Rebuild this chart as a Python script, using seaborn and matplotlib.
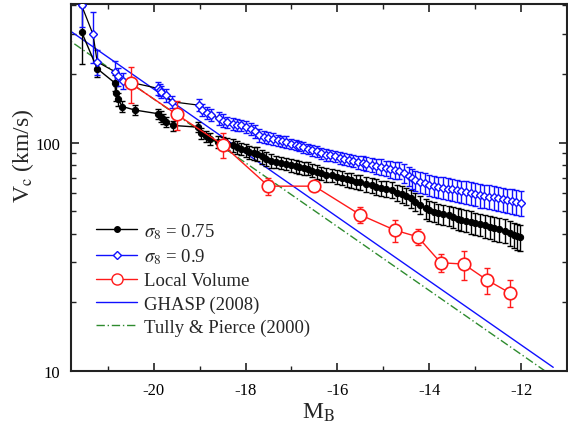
import numpy as np
import pandas as pd
import matplotlib
matplotlib.use('Agg')
import matplotlib.pyplot as plt
import seaborn as sns
from matplotlib.lines import Line2D
from matplotlib.ticker import FixedLocator, NullFormatter, MultipleLocator, FixedFormatter

# ---------------- data ----------------
# sigma_8 = 0.75 simulation
m75 = [-21.57, -21.23, -20.85, -20.82, -20.78, -20.68, -20.41, -19.91, -19.85, -19.80,
       -19.74, -19.58, -19.04, -18.96, -18.87, -18.78, -18.60, -18.50, -18.40, -18.28,
       -18.18, -18.10, -18.00, -17.92, -17.82, -17.74, -17.65, -17.55, -17.45, -17.34,
       -17.22, -17.12, -17.00, -16.90, -16.83, -16.73, -16.65, -16.55, -16.45, -16.35,
       -16.25, -16.11, -16.00, -15.90, -15.80, -15.70, -15.60, -15.50, -15.38, -15.25,
       -15.15, -15.05, -14.95, -14.81, -14.70, -14.60, -14.50, -14.40, -14.30, -14.20,
       -14.08, -14.00, -13.90, -13.80, -13.70, -13.58, -13.48, -13.38, -13.30, -13.21,
       -13.10, -13.00, -12.90, -12.78, -12.68, -12.58, -12.48, -12.35, -12.25, -12.15,
       -12.08, -12.02]
v75 = [306, 211, 183, 165, 155, 144, 139, 134, 130, 127,
       123, 119, 117, 110, 107, 104, 101, 99.5, 98.5, 97.3,
       95.5, 94, 92.5, 91, 90, 89.5, 87, 85, 83.5, 82.3,
       81.5, 81, 79.5, 78.8, 78.2, 77.5, 77, 75.5, 74.5, 73.5,
       72.5, 72, 71, 70, 69, 68.5, 67.5, 67, 66, 65,
       64, 63.2, 62.8, 62, 60.5, 59.5, 58.5, 57, 55, 53.5,
       51.5, 50.5, 49.8, 49, 48.5, 48, 47.2, 46.5, 46, 45.6,
       45, 44.4, 43.9, 43.4, 42.8, 42.2, 41.8, 41.2, 40.3, 39.5,
       39, 38.5]
e75 = [85, 18, 15, 12, 10, 8, 7, 7, 7, 6,
       6, 6, 6, 6, 6, 6, 6, 6, 6, 6,
       6, 6, 6, 6, 6, 6, 6, 6, 6, 5,
       5, 5, 5, 5, 5, 5, 5, 5, 5, 5,
       5, 5, 5, 5, 5, 5, 5, 5, 5, 5,
       5, 5, 5, 5, 5, 5, 5, 5, 5, 5,
       5, 5, 5, 5, 5, 5, 5, 5, 5, 5,
       5, 5, 5, 5, 5, 5, 5, 5, 5, 5,
       5, 5]

# sigma_8 = 0.9 simulation
m90 = [-21.57, -21.32, -21.23, -20.85, -20.78, -20.67, -19.91, -19.86, -19.83, -19.74,
       -19.59, -19.02, -18.94, -18.84, -18.75, -18.58, -18.50, -18.40, -18.28, -18.18,
       -18.10, -18.00, -17.88, -17.80, -17.70, -17.60, -17.50, -17.41, -17.30, -17.20,
       -17.12, -17.00, -16.90, -16.83, -16.75, -16.65, -16.55, -16.45, -16.35, -16.25,
       -16.15, -16.05, -15.95, -15.85, -15.75, -15.65, -15.55, -15.45, -15.38, -15.25,
       -15.15, -15.05, -14.95, -14.85, -14.75, -14.66, -14.55, -14.45, -14.38, -14.30,
       -14.20, -14.10, -14.00, -13.90, -13.80, -13.70, -13.60, -13.50, -13.40, -13.30,
       -13.20, -13.10, -13.00, -12.90, -12.80, -12.70, -12.60, -12.50, -12.40, -12.30,
       -12.20, -12.10, -12.00]
v90 = [400, 298, 226, 205, 195, 187, 173, 170, 167, 161,
       151, 146, 139, 135, 132, 128, 125, 123, 121, 120,
       119, 117, 115, 112, 108, 106, 105, 104, 102.5, 101.5,
       100.7, 99, 98, 97, 95.5, 94, 92.5, 91.5, 90, 88.5,
       88, 87, 86, 85, 84, 83, 82, 81.5, 81, 80,
       79, 78.5, 77.5, 76.5, 76, 75.5, 73.5, 71.5, 70, 68.5,
       67.5, 66.5, 65.5, 64.8, 64, 63.5, 63, 62.5, 61.8, 61.2,
       60.8, 60.2, 59.6, 59, 58.5, 58, 57.6, 57.2, 56.6, 56,
       55.5, 55, 54.6]
e90 = [80, 75, 28, 22, 18, 15, 12, 10, 10, 10,
       9, 9, 8, 8, 8, 8, 8, 7, 7, 7,
       7, 7, 7, 7, 7, 6, 6, 6, 6, 6,
       6, 5, 5, 5, 5, 5, 5, 5, 5, 5,
       5, 5, 5, 5, 5, 5, 5, 5.5, 5.5, 5.5,
       6, 6, 6, 6.5, 6.5, 6.5, 7, 7, 7, 7,
       7, 7, 7, 7, 7, 7, 7, 7, 7, 7,
       7, 7, 7, 7, 7, 7, 7, 7, 7, 7,
       7, 7, 7]

# Local Volume observations
m_lv = [-20.5, -19.5, -18.5, -17.5, -16.5, -15.5, -14.75, -14.25, -13.75, -13.25, -12.75, -12.25]
v_lv = [182, 133, 98, 64.5, 64.5, 48.3, 41.4, 38.7, 29.8, 29.4, 25.1, 22.0]
e_lv = [33, 19, 12, 5.5, 2.5, 4, 4.5, 3, 2.7, 4.3, 3.3, 3]

# Tully-Fisher relations: log10(V) = a + b * M
ghasp_a, ghasp_b = -0.567, -0.1401
ghasp_m = [-22.0, -11.3]
tp_a, tp_b = -0.6045, -0.1398
tp_m = [-22.0, -11.0]

x_ticks = [-20, -18, -16, -14, -12]
y_ticks = [10, 100]
y_ticklabels = ['10', '100']

labels = [r'$\sigma_8$ = 0.75', r'$\sigma_8$ = 0.9', 'Local Volume',
          'GHASP (2008)', 'Tully & Pierce (2000)']

# ---------------- style ----------------
sns.set_theme(style='ticks')
plt.rcParams['font.family'] = ['Liberation Serif', 'DejaVu Serif']
plt.rcParams['mathtext.fontset'] = 'stix'
plt.rcParams['axes.unicode_minus'] = False
plt.rcParams['axes.edgecolor'] = '#222222'

fig = plt.figure(figsize=(5.68, 4.27), dpi=100)
fig.patch.set_facecolor('white')
ax = fig.add_axes([71 / 568, 55 / 427, 496 / 568, 367 / 427])
ax.set_facecolor('white')

BLUE = '#1010ff'
RED = '#ff1a1a'
GREEN = '#2e8b2e'

# TF lines
gm = np.array(ghasp_m)
df_g = pd.DataFrame({'M': gm, 'V': 10 ** (ghasp_a + ghasp_b * gm)})
sns.lineplot(data=df_g, x='M', y='V', ax=ax, color=BLUE, lw=1.0, sort=False,
             estimator=None, legend=False, zorder=2)
tm = np.array(tp_m)
df_t = pd.DataFrame({'M': tm, 'V': 10 ** (tp_a + tp_b * tm)})
sns.lineplot(data=df_t, x='M', y='V', ax=ax, color=GREEN, lw=1.0, sort=False,
             estimator=None, legend=False, zorder=2, linestyle=(0, (6, 2, 1, 2)))

# sigma8 = 0.75
ax.errorbar(m75, v75, yerr=e75, fmt='none', ecolor='black', elinewidth=1.0,
            capsize=2, capthick=1.0, zorder=3)
df75 = pd.DataFrame({'M': m75, 'V': v75})
sns.lineplot(data=df75, x='M', y='V', ax=ax, color='black', lw=1.0, sort=False,
             estimator=None, legend=False, marker='o', markersize=4.5,
             markeredgecolor='black', markerfacecolor='black', zorder=4)

# sigma8 = 0.9
ax.errorbar(m90, v90, yerr=e90, fmt='none', ecolor=BLUE, elinewidth=1.0,
            capsize=2, capthick=1.0, zorder=3)
df90 = pd.DataFrame({'M': m90, 'V': v90})
sns.lineplot(data=df90, x='M', y='V', ax=ax, color='black', lw=0.9, sort=False,
             estimator=None, legend=False, marker='D', markersize=3.8,
             markeredgecolor=BLUE, markerfacecolor='white', markeredgewidth=1.0,
             zorder=4)

# Local Volume
ax.errorbar(m_lv, v_lv, yerr=e_lv, fmt='none', ecolor=RED, elinewidth=1.0,
            capsize=2.5, capthick=1.0, zorder=5)
dflv = pd.DataFrame({'M': m_lv, 'V': v_lv})
sns.lineplot(data=dflv, x='M', y='V', ax=ax, color=RED, lw=1.0, sort=False,
             estimator=None, legend=False, marker='o', markersize=9,
             markeredgecolor=RED, markerfacecolor='white', markeredgewidth=1.2,
             zorder=6)

# axes
ax.set_yscale('log')
ax.set_xlim(-21.8, -11.0)
ax.set_ylim(10, 405)
ax.xaxis.set_major_locator(FixedLocator(x_ticks))
ax.xaxis.set_minor_locator(MultipleLocator(1))
ax.yaxis.set_major_locator(FixedLocator(y_ticks))
ax.yaxis.set_major_formatter(FixedFormatter(y_ticklabels))
ax.yaxis.set_minor_locator(FixedLocator([20, 30, 40, 50, 60, 70, 80, 90, 200, 300, 400]))
ax.yaxis.set_minor_formatter(NullFormatter())
ax.tick_params(which='both', direction='in', top=True, right=True, labelsize=12,
               colors='#222222', labelcolor='black')
ax.tick_params(which='major', length=6, width=1.2, pad=8)
ax.tick_params(which='minor', length=3.5, width=1.0)
for s in ax.spines.values():
    s.set_linewidth(1.5)

ax.set_xlabel(r'M$_{\rm B}$', fontsize=17, labelpad=2)
ax.set_ylabel(r'V$_{\rm c}$ (km/s)', fontsize=17)
ax.yaxis.set_label_coords(-0.07, 0.59)

handles = [
    Line2D([], [], color='black', lw=1, marker='o', markersize=4, markerfacecolor='black'),
    Line2D([], [], color=BLUE, lw=1, marker='D', markersize=3.8, markerfacecolor='white',
           markeredgecolor=BLUE),
    Line2D([], [], color=RED, lw=1, marker='o', markersize=8, markerfacecolor='white',
           markeredgecolor=RED),
    Line2D([], [], color=BLUE, lw=1),
    Line2D([], [], color=GREEN, lw=1, linestyle=(0, (6, 2, 1, 2))),
]
leg = ax.legend(handles, labels, loc='lower left', bbox_to_anchor=(25 / 496, 35 / 367),
                frameon=False, fontsize=13.5, handlelength=2.2, handletextpad=0.35,
                labelspacing=0.32, borderpad=0, borderaxespad=0, numpoints=1)

fig.savefig('out.png', dpi=100, facecolor='white')
